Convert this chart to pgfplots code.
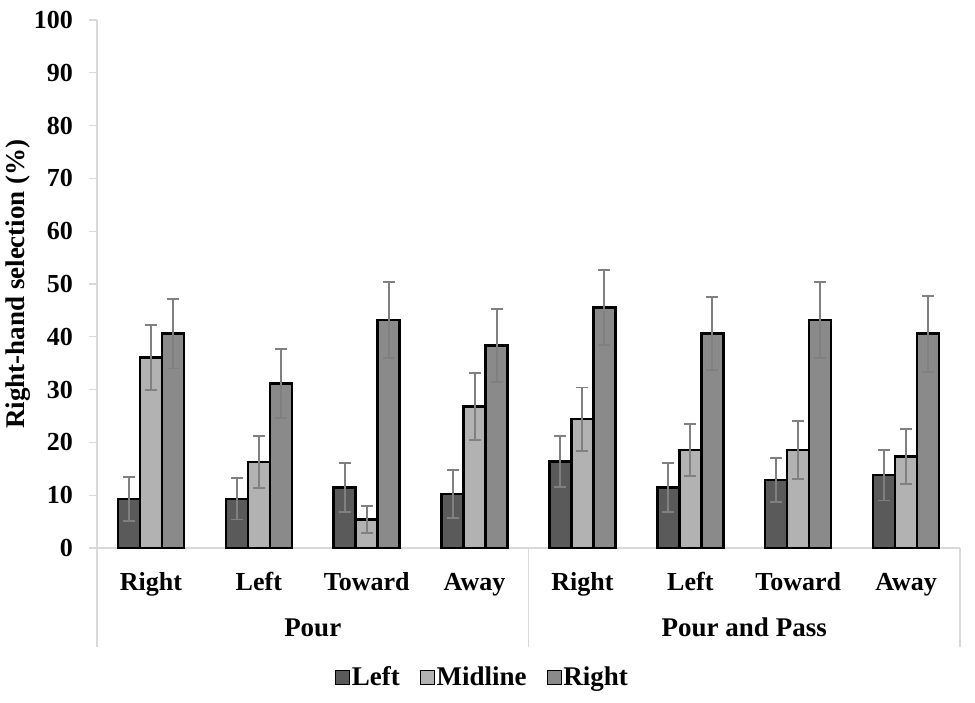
\documentclass[border=0pt]{standalone}
\usepackage{fontspec}
\setmainfont{Liberation Serif}
\usepackage{pgfplots}
\usepackage{pgfplotstable}
\pgfplotsset{compat=1.18}
\definecolor{cL}{RGB}{90,90,90}
\definecolor{cM}{RGB}{178,178,178}
\definecolor{cR}{RGB}{138,138,138}
\definecolor{axg}{RGB}{217,217,217}
\definecolor{errg}{RGB}{128,128,128}
\pgfplotstableread{
x L Le M Me R Re
0 9.3 4.2 36.1 6.2 40.6 6.6
1 9.3 3.9 16.3 5.0 31.2 6.5
2 11.5 4.6 5.4 2.5 43.2 7.2
3 10.2 4.6 26.8 6.3 38.3 6.9
4 16.4 4.9 24.4 6.0 45.5 7.1
5 11.5 4.6 18.6 4.9 40.6 6.9
6 12.9 4.1 18.6 5.5 43.2 7.2
7 13.8 4.8 17.3 5.2 40.6 7.2
}\data
\pgfplotsset{
  myerr/.style={
    error bars/.cd, y dir=both, y explicit,
    error bar style={color=errg, line width=1.9pt, solid},
    error mark options={rotate=90, color=errg, line width=1.9pt, mark size=6pt, solid},
  },
}
\begin{document}
\begin{tikzpicture}
\begin{axis}[
  scale only axis, width=863pt, height=528pt,
  xmin=-0.5, xmax=7.5, ymin=0, ymax=100,
  ybar=0pt, bar width=22pt,
  axis x line*=bottom, axis y line*=left,
  axis line style={draw=axg, line width=1.2pt, -},
  xtick={0,...,7},
  xticklabels={Right,Left,Toward,Away,Right,Left,Toward,Away},
  x tick style={draw=none},
  ytick={0,10,...,100},
  y tick style={draw=axg, line width=1.2pt},
  tick align=outside, major tick length=8pt,
  /pgf/number format/assume math mode=true,
  yticklabel style={font=\bfseries\fontsize{26}{30}\selectfont, inner sep=0pt, anchor=east, xshift=-16pt},
  xticklabel style={font=\bfseries\fontsize{26}{30}\selectfont, inner sep=0pt, anchor=base, yshift=-34pt},
  ylabel={Right-hand selection (\%)},
  ylabel style={font=\bfseries\fontsize{27}{30}\selectfont, at={(axis description cs:-0.0915,0.5)}, anchor=center},
  clip=false,
  legend columns=3,
  legend image code/.code={\draw[#1, draw=black, line width=0.8pt] (0pt,-7.5pt) rectangle (14pt,6.5pt);},
  legend style={at={(0.4467,-0.2443)}, anchor=center, draw=none, fill=none,
    font=\bfseries\fontsize{27}{30}\selectfont, nodes={inner sep=2pt},
    /tikz/every even column/.append style={column sep=18pt}},
]
\addplot[fill=cL, draw=black, line width=2.6pt, myerr]
  table[x=x, y=L, y error=Le]{\data};
\addplot[fill=cM, draw=black, line width=2.6pt, myerr]
  table[x=x, y=M, y error=Me]{\data};
\addplot[fill=cR, draw=black, line width=2.6pt, myerr]
  table[x=x, y=R, y error=Re]{\data};
\legend{Left,Midline,Right}
\draw[axg, line width=1.2pt] (axis cs:-0.5,0) -- (axis cs:-0.5,-18.75);
\draw[axg, line width=1.2pt] (axis cs:3.5,0) -- (axis cs:3.5,-18.75);
\draw[axg, line width=1.2pt] (axis cs:7.5,0) -- (axis cs:7.5,-18.75);
\node[font=\bfseries\fontsize{27}{30}\selectfont, anchor=base, inner sep=0pt] at (axis cs:1.5,-16.76) {Pour};
\node[font=\bfseries\fontsize{27}{30}\selectfont, anchor=base, inner sep=0pt] at (axis cs:5.5,-16.76) {Pour and Pass};
\path (rel axis cs:-0.1124,-0.2917) rectangle (rel axis cs:1.0174,1.0379);
\end{axis}
\end{tikzpicture}
\end{document}
